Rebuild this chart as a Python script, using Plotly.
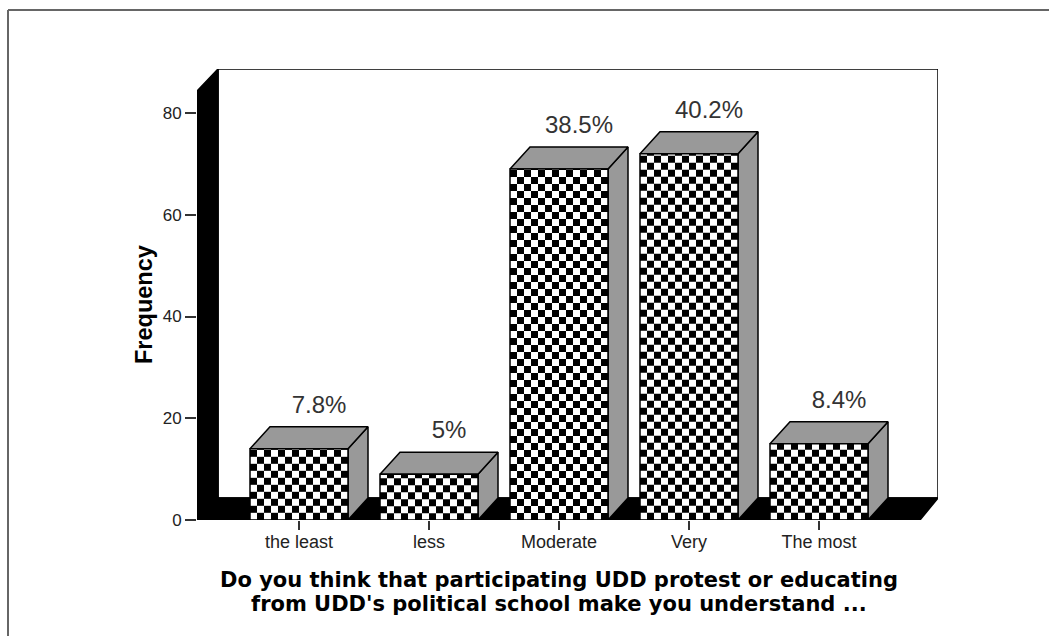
import numpy as np
import plotly.graph_objects as go

categories = ["the least", "less", "Moderate", "Very", "The most"]
frequency = [14, 9, 69, 72, 15]
percent_labels = ["7.8%", "5%", "38.5%", "40.2%", "8.4%"]
y_ticks = [0, 20, 40, 60, 80]
x_title_lines = ["Do you think that participating UDD protest or educating",
                 "from UDD's political school make you understand ..."]
y_title = "Frequency"

W, H = 1049, 636
L, R, T, B = 197, 938, 69, 520
PX_PER_CAT = 130.0
PX_PER_UNIT = 5.0875
X0 = -(299 - L) / PX_PER_CAT
X1 = X0 + (R - L) / PX_PER_CAT
Y1 = (B - T) / PX_PER_UNIT
HALF = 49 / PX_PER_CAT
DX = 20 / PX_PER_CAT
DY = 22 / PX_PER_UNIT
CELL_X = 7 / PX_PER_CAT
CELL_Y = 7 / PX_PER_UNIT
WALL_X = 21 / PX_PER_CAT
FLOOR_RIGHT = X1 - 18 / PX_PER_CAT
LABEL_GAP = 8 / PX_PER_UNIT

fig = go.Figure()


def poly(xs, ys, fill, line="#000000", width=1.5):
    fig.add_trace(go.Scatter(
        x=xs, y=ys, mode="lines", fill="toself", fillcolor=fill,
        line=dict(color=line, width=width), hoverinfo="skip", showlegend=False,
        cliponaxis=False))


# back wall, left wall and floor
poly([X0 + WALL_X, X1, X1, X0 + WALL_X, X0 + WALL_X], [DY, DY, Y1, Y1, DY], "#ffffff")
poly([X0, X0 + WALL_X, X0 + WALL_X, X0, X0], [0, DY, Y1, Y1 - DY, 0], "#000000")
poly([X0, X0 + WALL_X, X1, FLOOR_RIGHT, X0], [0, DY, DY, 0, 0], "#000000")

# bars: grey faces underneath, chequered fronts on the overlaid axes
for i, v in enumerate(frequency):
    l, r = i - HALF, i + HALF
    poly([r, r + DX, r + DX, r, r], [0, DY, v + DY, v, 0], "#999999")
    poly([l, r, r + DX, l + DX, l], [v, v, v + DY, v + DY, v], "#999999")
    xe = np.append(np.arange(l, r - 1e-9, CELL_X), r)
    ye = np.append(np.arange(0, v - 1e-9, CELL_Y), v)
    z = [[(a + b) % 2 for a in range(len(xe) - 1)] for b in range(len(ye) - 1)]
    fig.add_trace(go.Heatmap(
        x=xe, y=ye, z=z, zmin=0, zmax=1, showscale=False, hoverinfo="skip",
        colorscale=[[0, "#ffffff"], [1, "#000000"]], xaxis="x2", yaxis="y2"))
    fig.add_trace(go.Scatter(
        x=[l, r, r, l, l], y=[0, 0, v, v, 0], mode="lines", xaxis="x2", yaxis="y2",
        line=dict(color="#000000", width=1.5), hoverinfo="skip", showlegend=False))

# value labels
fig.add_trace(go.Scatter(
    x=[i + DX for i in range(len(frequency))],
    y=[v + DY + LABEL_GAP for v in frequency],
    text=percent_labels, mode="text", textposition="top center",
    textfont=dict(family="Liberation Sans", size=24, color="#333333"),
    hoverinfo="skip", showlegend=False, cliponaxis=False, xaxis="x2", yaxis="y2"))

fig.update_layout(
    xaxis=dict(
        range=[X0, X1], tickvals=list(range(len(categories))), ticktext=categories,
        ticks="outside", ticklen=9, tickcolor="#333333", tickwidth=1.5,
        ticklabelstandoff=-4,
        tickfont=dict(family="Liberation Sans", size=18, color="#222222"),
        showgrid=False, zeroline=False, showline=False),
    yaxis=dict(
        range=[0, Y1], tickvals=y_ticks, ticks="outside", ticklen=11, tickcolor="#333333",
        tickwidth=1.5, tickfont=dict(family="Liberation Sans", size=17, color="#222222"),
        showgrid=False, zeroline=False, showline=False),
    xaxis2=dict(range=[X0, X1], overlaying="x", visible=False),
    yaxis2=dict(range=[0, Y1], overlaying="y", visible=False),
    width=W, height=H, autosize=False,
    margin=dict(l=L, r=W - R, t=T, b=H - B),
    paper_bgcolor="#ffffff", plot_bgcolor="#ffffff", showlegend=False,
    annotations=[
        dict(text="<b>" + x_title_lines[0] + "</b>", xref="paper", yref="paper",
             x=(559 - L) / (R - L), y=(B - 579.5) / (B - T), showarrow=False,
             font=dict(family="DejaVu Sans", size=21, color="#000000"),
             xanchor="center", yanchor="middle"),
        dict(text="<b>" + x_title_lines[1] + "</b>", xref="paper", yref="paper",
             x=(559 - L) / (R - L), y=(B - 604) / (B - T), showarrow=False,
             font=dict(family="DejaVu Sans", size=21, color="#000000"),
             xanchor="center", yanchor="middle"),
        dict(text="<b>" + y_title + "</b>", xref="paper", yref="paper",
             x=(144 - L) / (R - L), y=(B - 305) / (B - T), showarrow=False, textangle=-90,
             font=dict(family="Liberation Sans", size=23.5, color="#000000"),
             xanchor="center", yanchor="middle"),
    ],
    shapes=[
        dict(type="line", xref="paper", yref="paper", x0=(8 - L) / (R - L), x1=(W - L) / (R - L),
             y0=(B - 10) / (B - T), y1=(B - 10) / (B - T), line=dict(color="#666666", width=2)),
        dict(type="line", xref="paper", yref="paper", x0=(8 - L) / (R - L), x1=(8 - L) / (R - L),
             y0=(B - 10) / (B - T), y1=(B - H) / (B - T), line=dict(color="#666666", width=2)),
    ],
)

fig.write_html("out.html", config={"displayModeBar": False},
               post_script="document.body.style.margin='0';document.body.style.overflow='hidden';")
